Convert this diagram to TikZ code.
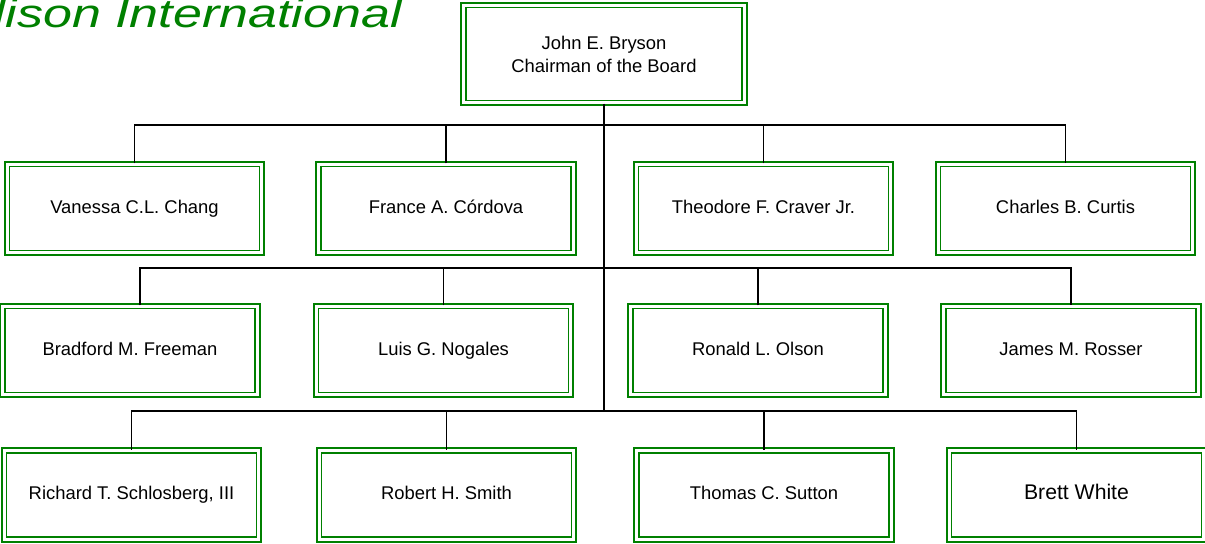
\documentclass[tikz,border=0pt]{standalone}
\usepackage{fontspec}
\setmainfont{Liberation Sans}
\usepackage{graphicx}
\usepackage{xcolor}
\usepackage{tikz}
\usetikzlibrary{positioning, calc}
\definecolor{boardgreen}{RGB}{0,128,0}
\tikzset{
x=0.75pt,
y=-0.75pt,
black,
text=black,
member/.style={%
    rectangle,
    draw=boardgreen,
    double=white,
    line width=1.25pt,
    double distance=2.3pt,
    minimum width=191pt,
    minimum height=66.5pt,
    inner sep=0pt,
    align=center,
    text height=0.716em,
    text depth=0pt,
    % Font
    font=\fontsize{13.8}{17.2}\selectfont
},
chair/.style={member, minimum width=211pt, minimum height=73.2pt, text height=, text depth=},
bigname/.style={font=\fontsize{15.9}{19}\selectfont},
bus/.style={draw=black, line width=1pt},
trunk/.style={draw=black, line width=1.7pt},
heading/.style={text=boardgreen, font=\fontsize{30}{33}\selectfont\itshape, inner sep=0pt},
}

\begin{document}
\begin{tikzpicture}

\useasboundingbox (0,0) rectangle (1205,543);

\node[heading,anchor=base east] (title) at (402,27.5) {\scalebox{1.30}[1]{Edison International}};

\node[chair] (boss) at (604,54) {John E. Bryson\\Chairman of the Board};

\node[member] (chang) at (134.5,208.5) {Vanessa C.L. Chang};
\node[member] (cordova) at (446,208.5) {France A. C\'ordova};
\node[member] (craver) at (763.5,208.5) {Theodore F. Craver Jr.};
\node[member] (curtis) at (1065.5,208.5) {Charles B. Curtis};

\node[member] (freeman) at (130,350.5) {Bradford M. Freeman};
\node[member] (nogales) at (443.5,350.5) {Luis G. Nogales};
\node[member] (olson) at (758,350.5) {Ronald L. Olson};
\node[member] (rosser) at (1071,350.5) {James M. Rosser};

\node[member] (schlosberg) at (131.5,495) {Richard T. Schlosberg, III};
\node[member] (smith) at (446.5,495) {Robert H. Smith};
\node[member] (sutton) at (764,495) {Thomas C. Sutton};
\node[member,bigname] (white) at (1076.5,495) {Brett White};

\coordinate (j1) at (604,125);
\coordinate (j2) at (604,268);
\coordinate (j3) at (604,411);
\coordinate (fr) at ([xshift=7.5pt]freeman.north);

\draw[trunk] (boss.south) -- (j3);

\draw[bus] (chang.north) |- (j1) -| (curtis.north);
\draw[bus] (fr) |- (j2) -| (rosser.north);
\draw[bus] (schlosberg.north) |- (j3) -| (white.north);

\foreach \n/\j in {cordova/j1, craver/j1, nogales/j2, olson/j2, smith/j3, sutton/j3}
    \draw[bus] (\n.north) -- (\n.north |- \j);

\end{tikzpicture}
\end{document}
